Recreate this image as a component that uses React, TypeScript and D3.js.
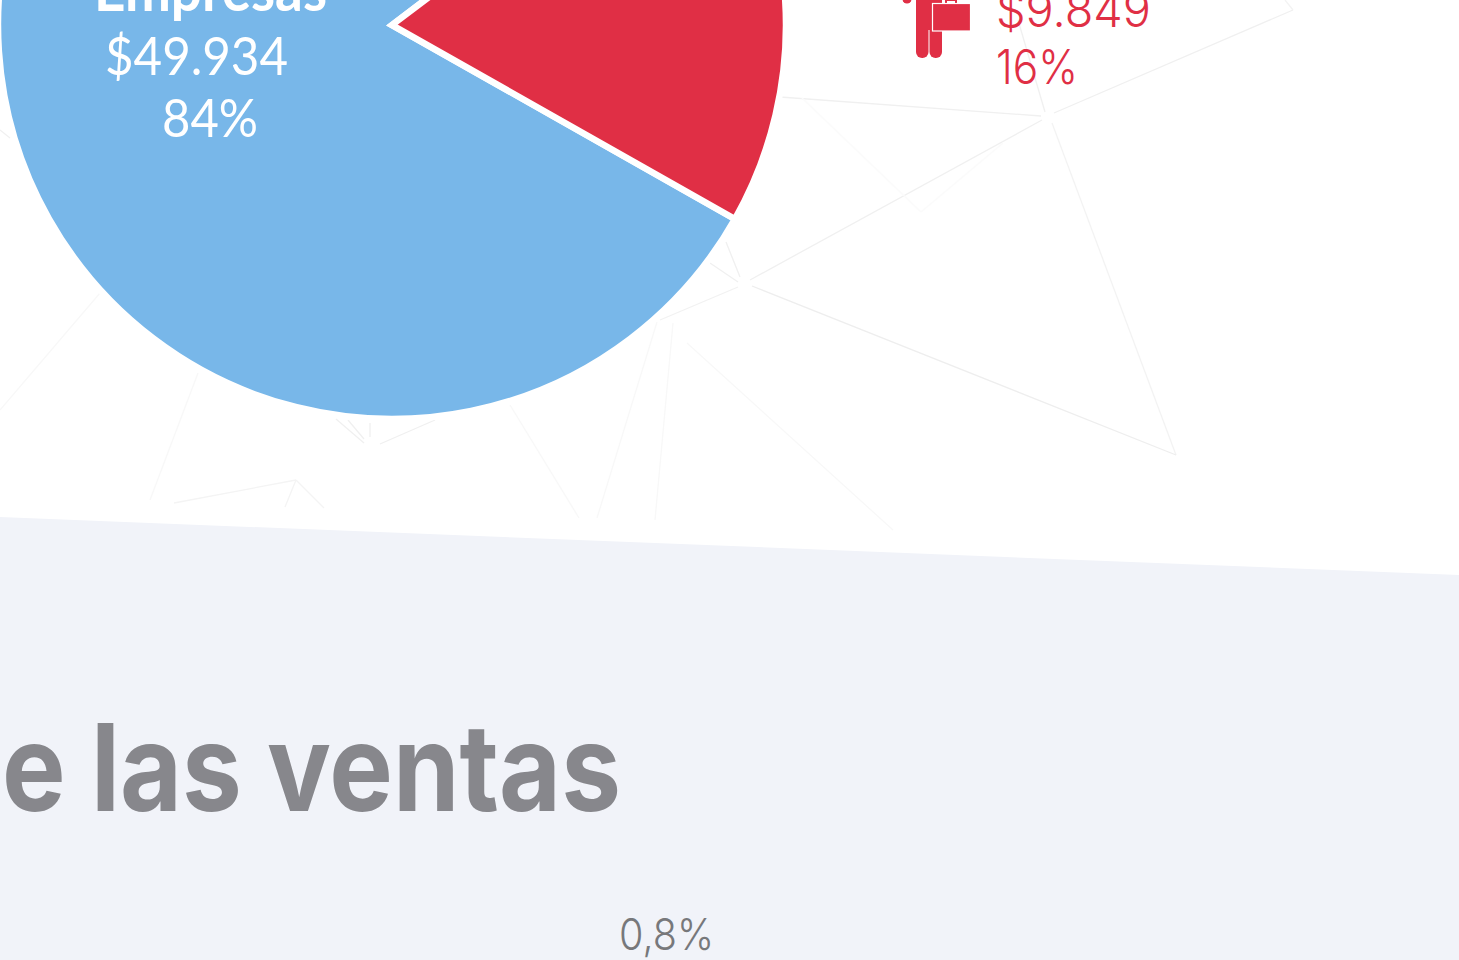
import React from "react";
import * as d3 from "d3";

const segmentNames = ["Empresas", "Consumidores"];
// Shares of the circle as the wedges are drawn in the picture
const segmentDrawnShares = [81.5, 18.5];
const segmentAmounts = ["$49.934", "$9.849"];
const segmentShares = ["84%", "16%"];
const segmentColors = ["#78b7e9", "#e02f45"];

const sectionTitle = "e las ventas";
const shareLabel = "0,8%";

// Faint decorative web behind the chart: [x1, y1, x2, y2, colour]
const webLines: [number, number, number, number, string][] = [
  [780, 97, 1041, 116, "#f0f0f0"],
  [1054, 113, 1293, 10, "#f0f0f0"],
  [1293, 10, 1285, 0, "#f3f3f3"],
  [1052, 123, 1176, 455, "#f3f3f3"],
  [1176, 455, 752, 286, "#eeeeee"],
  [1042, 120, 750, 280, "#f0f0f0"],
  [1018, 20, 1045, 112, "#f0f0f0"],
  [802, 98, 921, 212, "#fbfbfb"],
  [921, 212, 1003, 143, "#fbfbfb"],
  [726, 242, 740, 277, "#f0f0f0"],
  [710, 263, 738, 282, "#f0f0f0"],
  [738, 287, 660, 320, "#f2f2f2"],
  [657, 322, 597, 518, "#f8f8f8"],
  [673, 323, 655, 520, "#f8f8f8"],
  [687, 343, 893, 530, "#f8f8f8"],
  [100, 293, 0, 410, "#f8f8f8"],
  [198, 373, 150, 500, "#f8f8f8"],
  [336, 419, 364, 443, "#f0f0f0"],
  [348, 420, 364, 439, "#f0f0f0"],
  [370, 423, 370, 437, "#f0f0f0"],
  [435, 420, 380, 444, "#f0f0f0"],
  [174, 503, 296, 480, "#f4f4f4"],
  [296, 480, 285, 507, "#f4f4f4"],
  [296, 480, 324, 508, "#f4f4f4"],
  [510, 405, 579, 518, "#f8f8f8"],
  [0, 130, 10, 138, "#f0f0f0"],
];

const WIDTH = 1459;
const HEIGHT = 960;
const cx = 392;
const cy = 25;
const radius = 394;

export default function App() {
  const redEnd = (119.5 * Math.PI) / 180;
  const pie = d3
    .pie<number>()
    .sort(null)
    .startAngle(redEnd)
    .endAngle(redEnd + 2 * Math.PI);
  const arcs = pie(segmentDrawnShares);
  const arc = d3.arc<d3.PieArcDatum<number>>().innerRadius(0).outerRadius(radius);
  const webPath = d3.line();
  const band = webPath([
    [0, 517],
    [WIDTH, 575],
    [WIDTH, HEIGHT],
    [0, HEIGHT],
  ])!;
  const futura = "Lato, 'Open Sans', sans-serif";
  const gotham = "Inter, 'Open Sans', sans-serif";
  const red = segmentColors[1];

  return (
    <svg
      width={WIDTH}
      height={HEIGHT}
      viewBox={`0 0 ${WIDTH} ${HEIGHT}`}
      style={{ position: "fixed", left: 0, top: 0, display: "block", background: "#fff" }}
    >
      {webLines.map(([x1, y1, x2, y2, c], i) => (
        <path
          key={i}
          d={webPath([
            [x1, y1],
            [x2, y2],
          ])!}
          stroke={c}
          strokeWidth={1.3}
          fill="none"
        />
      ))}
      <path d={band} fill="#f1f3f9" />

      <g transform={`translate(${cx},${cy})`}>
        {arcs.map((a, i) => (
          <path
            key={i}
            d={arc(a)!}
            fill={segmentColors[i]}
            stroke="#fff"
            strokeWidth={6.5}
            strokeLinejoin="miter"
          />
        ))}
      </g>

      <text x={94} y={11} fontFamily={futura} fontWeight={700} fontSize={59} fill="#fff" textLength={233} lengthAdjust="spacingAndGlyphs">
        {segmentNames[0]}
      </text>
      <text x={105} y={75} fontFamily={futura} fontWeight={400} fontSize={52} fill="#fff" textLength={183} lengthAdjust="spacingAndGlyphs">
        {segmentAmounts[0]}
      </text>
      <text x={162} y={137} fontFamily={futura} fontWeight={400} fontSize={52} fill="#fff" textLength={96} lengthAdjust="spacingAndGlyphs">
        {segmentShares[0]}
      </text>

      {/* person with briefcase */}
      <g fill={red}>
        <circle cx={907} cy={-1} r={4.5} />
        <rect x={905} y={-12} width={30} height={12} />
        <rect x={916} y={-10} width={12.5} height={68} rx={6} />
        <rect x={929.5} y={-10} width={12.5} height={68} rx={6} />
        <rect x={916} y={-10} width={26} height={40} />
        <path d="M946 3 V0 H956 V3" fill="none" stroke={red} strokeWidth={2} />
        <rect x={932.5} y={3.5} width={38} height={27.5} stroke="#fff" strokeWidth={1.2} />
      </g>
      <text x={996} y={27} fontFamily={gotham} fontWeight={300} fontSize={48} fill={red} textLength={155} lengthAdjust="spacingAndGlyphs">
        {segmentAmounts[1]}
      </text>
      <text x={996} y={84} fontFamily={gotham} fontWeight={300} fontSize={48} fill={red} textLength={82} lengthAdjust="spacingAndGlyphs">
        {segmentShares[1]}
      </text>

      <text x={2} y={811} fontFamily={gotham} fontWeight={700} fontSize={121} fill="#87878c" textLength={619} lengthAdjust="spacingAndGlyphs">
        {sectionTitle}
      </text>
      <text x={619} y={950} fontFamily={gotham} fontWeight={300} fontSize={44} fill="#77787b" textLength={95} lengthAdjust="spacingAndGlyphs">
        {shareLabel}
      </text>
    </svg>
  );
}
